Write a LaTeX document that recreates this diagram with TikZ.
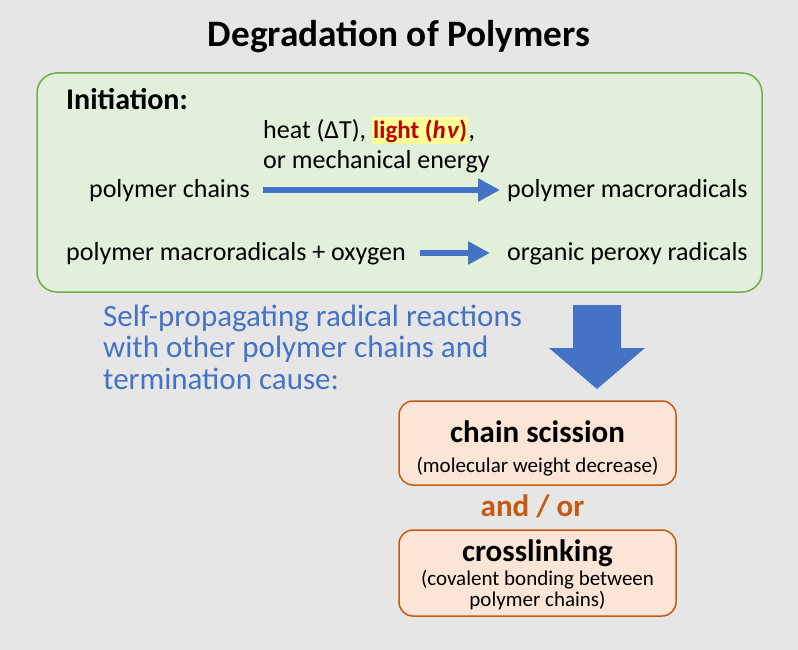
\documentclass[tikz,border=0pt]{standalone}
\usepackage{fontspec}
\setmainfont{Carlito}
\usetikzlibrary{arrows.meta}
\definecolor{bg}{HTML}{E7E6E6}
\definecolor{gfill}{HTML}{E2EFDA}
\definecolor{gline}{HTML}{70AD47}
\definecolor{oblue}{HTML}{4472C4}
\definecolor{ofill}{HTML}{FBE5D6}
\definecolor{oline}{HTML}{C55A11}
\definecolor{dred}{HTML}{C00000}
\definecolor{hilite}{HTML}{FFFF99}
\tikzset{
  txt/.style={inner sep=0pt, font=\fontsize{26}{30}\selectfont},
  bigb/.style={inner sep=0pt, font=\fontsize{31}{34}\selectfont\bfseries},
  bluetxt/.style={inner sep=0pt, anchor=base west, text=oblue, font=\fontsize{31}{34}\selectfont},
  rarrow/.style={draw=oblue, line width=6pt, -{Triangle[length=22pt,width=22pt]}},
  obox/.style={draw=oline, line width=1.5pt, fill=ofill, rounded corners=14pt},
}
\begin{document}
\begin{tikzpicture}[x=1pt,y=-1pt]
\fill[bg] (0,0) rectangle (798,650);
\useasboundingbox (0,0) rectangle (798,650);
\node[inner sep=0pt, anchor=base, font=\fontsize{37.3}{40}\selectfont\bfseries] (title) at (399,47) {Degradation of Polymers};
\draw[draw=gline, line width=1.5pt, fill=gfill, rounded corners=20pt] (37,73) rectangle (762,292);
\node[inner sep=0pt, anchor=base west, font=\fontsize{30}{34}\selectfont\bfseries] (init) at (66,110) {Initiation:};
\node[txt, anchor=base west] (heat) at (263,139) {heat (ΔT),};
\node[anchor=base west, inner xsep=1pt, inner ysep=0pt, fill=hilite, text height=22pt, text depth=5pt, font=\fontsize{25}{30}\selectfont\bfseries, text=dred] (light) at (372,139) {light (\textit{h\kern1pt ν})};
\node[txt, anchor=base west] (comma) at (light.base east) {,};
\node[txt, anchor=base west] (mech) at (263,168) {or mechanical energy};
\node[txt, anchor=base east] (pc) at (250,197) {polymer chains};
\node[txt, anchor=base west] (pm) at (507,197) {polymer macroradicals};
\coordinate (a1s) at (263,190);
\coordinate (a1e) at (500,190);
\draw[rarrow] (a1s) -- (a1e);
\node[txt, anchor=base west] (pmo) at (66,260) {polymer macroradicals + oxygen};
\node[txt, anchor=base west] (opr) at (507,260) {organic peroxy radicals};
\coordinate (a2s) at (420,253);
\coordinate (a2e) at (490,253);
\draw[rarrow] (a2s) -- (a2e);
\node[bluetxt] (self1) at (103,326) {Self-propagating radical reactions};
\node[bluetxt] (self2) at (103,357.5) {with other polymer chains and};
\node[bluetxt] (self3) at (103,389) {termination cause:};
\fill[oblue] (573,305) -- (621,305) -- (621,348) -- (645,348) -- (597,389) -- (549,348) -- (573,348) -- cycle;
\draw[obox] (399,401) rectangle (676,485);
\node[bigb, anchor=base] (cs) at (537.5,442.5) {chain scission};
\node[inner sep=0pt, anchor=base, font=\fontsize{21}{24}\selectfont] (mw) at (537.5,472.5) {(molecular weight decrease)};
\node[bigb, anchor=base, text=oline] (andor) at (532.5,516.5) {and / or};
\draw[obox] (399,530) rectangle (676,616);
\node[bigb, anchor=base] (cl) at (537.5,561.5) {crosslinking};
\node[inner sep=0pt, anchor=base, font=\fontsize{21}{24}\selectfont] (cov1) at (537.5,585) {(covalent bonding between};
\node[inner sep=0pt, anchor=base, font=\fontsize{21}{24}\selectfont] (cov2) at (537.5,606.5) {polymer chains)};
\end{tikzpicture}
\end{document}
